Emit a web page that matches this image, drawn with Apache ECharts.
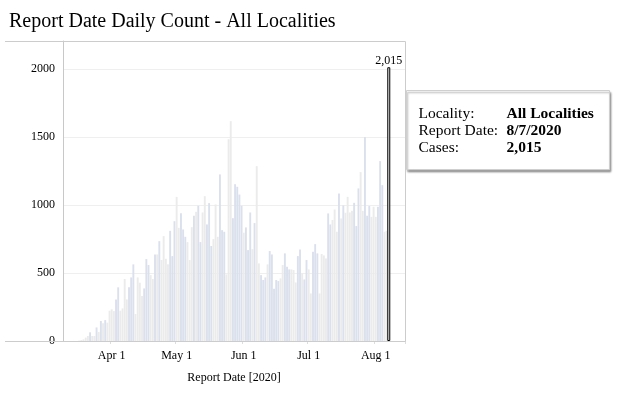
<!DOCTYPE html>
<html>
<head>
<meta charset="utf-8">
<title>Report Date Daily Count - All Localities</title>
<script src="https://cdn.jsdelivr.net/npm/echarts@6.0.0/dist/echarts.min.js"></script>
<style>
html,body{margin:0;padding:0;background:#fff;}
#chart{width:640px;height:398px;}
</style>
</head>
<body>
<div id="chart"></div>
<script>
// data - daily cases by report date, first day 3/10/2020
var startDay = [2020, 2, 10];
var dayCount = 158; // axis runs to 8/14
var cases = [
	0,0,0,0,0,0,0,3,7,12,
	25,37,64,37,37,100,66,147,130,154,
	135,223,233,220,306,395,223,240,456,306,
	395,468,564,199,468,429,331,387,603,559,
	485,456,637,637,735,596,772,605,564,811,
	625,882,1061,833,941,821,767,728,596,838,
	921,951,995,728,946,1066,858,1015,699,750,
	1005,767,1226,816,804,490,1485,1618,904,1154,
	1135,1078,995,797,836,669,946,676,868,1287,
	571,485,449,468,564,662,637,385,449,441,
	461,559,645,547,527,527,522,431,625,674,
	497,453,596,527,350,657,713,645,350,640,
	630,608,939,858,890,968,804,1086,902,998,
	944,1061,946,958,1017,846,1123,1243,958,1502,
	922,993,914,988,914,988,1324,1147,804,811,
	2015
];
// days drawn in the blue tone
var blueDays = [12,15,17,19,24,25,30,31,32,37,38,39,42,44,49,50,51,54,55,56,60,62,63,66,67,68,72,73,74,78,79,80,81,82,84,85,86,88,91,92,93,95,96,97,98,99,102,103,104,108,109,111,112,115,116,117,122,123,127,129,134,135,136,139,140,141,145,146,147];
var yTicks = [0, 500, 1000, 1500, 2000];
var monthNames = ['Jan','Feb','Mar','Apr','May','Jun','Jul','Aug','Sep','Oct','Nov','Dec'];
var selLocality = 'All Localities';
var selDate = '8/7/2020';

var serif = 'Liberation Serif';

//日期
var dates = [];
for (var i = 0; i < dayCount; i++) {
	dates.push(new Date(startDay[0], startDay[1], startDay[2] + i));
}
var catLabels = dates.map(function (d) {
	return monthNames[d.getMonth()] + ' ' + d.getDate();
});
function isMonthStart(idx) {
	return dates[idx].getDate() === 1;
}
function fmt(n) {
	return String(n).replace(/\B(?=(\d{3})+(?!\d))/g, ',');
}

var lastIdx = cases.length - 1;
var barData = cases.map(function (v, i) {
	if (i === lastIdx) return null;
	return {
		value: v,
		itemStyle: { color: blueDays.indexOf(i) >= 0 ? '#dbe0ed' : '#ebebeb' }
	};
});
// selected day, drawn wider with an outline
var selData = cases.map(function (v, i) {
	return i === lastIdx ? v : null;
});

var chart = echarts.init(document.getElementById('chart'));
chart.setOption({
	animation: false,
	title: {
		text: 'Report Date Daily Count - All Localities',
		left: 4,
		top: 7,
		textStyle: { fontFamily: serif, fontSize: 20, fontWeight: 'normal', color: '#000' }
	},
	grid: { left: 63, right: 235, top: 41, bottom: 57 },
	xAxis: [{
		type: 'category',
		data: catLabels,
		name: 'Report Date [2020]',
		nameLocation: 'middle',
		nameGap: 31,
		nameTextStyle: { fontFamily: serif, fontSize: 12, color: '#000' },
		axisLine: { lineStyle: { color: '#c8c8c8' } },
		axisTick: {
			show: true,
			length: 3,
			interval: function (idx) { return isMonthStart(idx); },
			lineStyle: { color: '#dddddd' }
		},
		axisLabel: {
			interval: function (idx) { return isMonthStart(idx); },
			fontFamily: serif,
			fontSize: 12,
			color: '#000',
			margin: 9
		},
		splitLine: { show: false }
	}, {
		type: 'category',
		data: catLabels,
		show: false
	}],
	yAxis: {
		type: 'value',
		min: 0,
		max: 2208,
		interval: 500,
		axisLine: { show: true, lineStyle: { color: '#c8c8c8' } },
		axisTick: { show: false },
		axisLabel: {
			margin: 8,
			fontFamily: serif,
			fontSize: 12,
			color: '#000',
			formatter: function (v) { return yTicks.indexOf(v) >= 0 ? String(v) : ''; }
		},
		splitLine: { lineStyle: { color: '#efefef' } }
	},
	series: [{
		type: 'bar',
		data: barData,
		barCategoryGap: '12%'
	}, {
		type: 'bar',
		xAxisIndex: 1,
		data: selData,
		barWidth: 3,
		itemStyle: { color: '#e8e8e8', borderColor: '#000', borderWidth: 1 },
		label: {
			show: true,
			position: 'top',
			distance: 0,
			formatter: function (p) { return fmt(p.value); },
			color: '#000',
			fontSize: 12,
			fontFamily: serif
		}
	}],
	graphic: [
		{
			type: 'polyline',
			silent: true,
			z: 10,
			shape: { points: [[5, 41.5], [405.5, 41.5], [405.5, 341.5], [5, 341.5]] },
			style: { stroke: '#cccccc', lineWidth: 1, fill: null }
		},
		{
			type: 'group',
			left: 406,
			top: 90,
			z: 20,
			children: [
				{
					type: 'rect',
					shape: { x: 0, y: 0, width: 203, height: 79 },
					style: {
						fill: '#fff', stroke: '#cfcfcf', lineWidth: 1,
						shadowColor: 'rgba(0,0,0,0.35)', shadowBlur: 2, shadowOffsetX: 1, shadowOffsetY: 2
					}
				},
				{ type: 'text', x: 12, y: 23, style: { text: 'Locality:', font: '15.5px ' + serif, fill: '#000', verticalAlign: 'middle' } },
				{ type: 'text', x: 12, y: 40, style: { text: 'Report Date:', font: '15.5px ' + serif, fill: '#000', verticalAlign: 'middle' } },
				{ type: 'text', x: 12, y: 57, style: { text: 'Cases:', font: '15.5px ' + serif, fill: '#000', verticalAlign: 'middle' } },
				{ type: 'text', x: 100, y: 23, style: { text: selLocality, font: 'bold 15.5px ' + serif, fill: '#000', verticalAlign: 'middle' } },
				{ type: 'text', x: 100, y: 40, style: { text: selDate, font: 'bold 15.5px ' + serif, fill: '#000', verticalAlign: 'middle' } },
				{ type: 'text', x: 100, y: 57, style: { text: fmt(cases[lastIdx]), font: 'bold 15.5px ' + serif, fill: '#000', verticalAlign: 'middle' } }
			]
		}
	]
});
</script>
</body>
</html>
